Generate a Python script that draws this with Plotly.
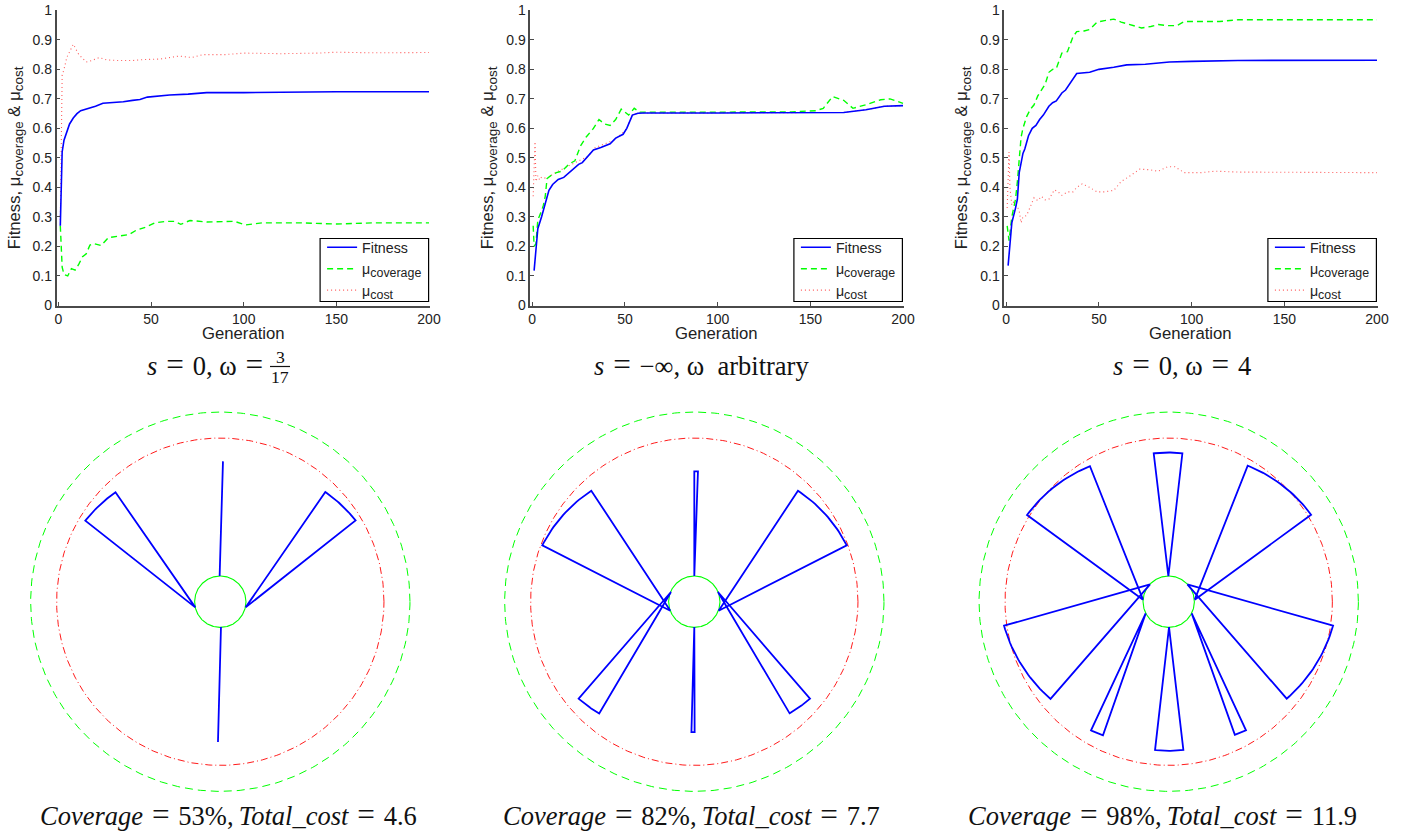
import numpy as np
import plotly.graph_objects as go

W, H = 1408, 835
# ---------- line chart data (generation, value) ----------
p1_fit_x = [1,2,3,5,6,8,10,12,15,18,20,24,30,35,40,44,48,55,60,70,80,100,150,200]
p1_fit_y = [.27,.52,.56,.60,.615,.635,.65,.66,.665,.672,.675,.685,.687,.69,.695,.698,.706,.71,.713,.716,.721,.721,.724,.724]
p1_cov_x = [1,2,3,5,7,9,11,13,15,17,19,23,27,33,38,42,47,52,58,63,66,71,80,95,101,110,130,150,170,200]
p1_cov_y = [.27,.13,.105,.10,.125,.12,.14,.165,.175,.205,.21,.203,.23,.235,.24,.255,.265,.28,.285,.285,.275,.288,.283,.285,.273,.28,.28,.276,.28,.28]
p1_cost_x = [1,1.5,2,3,4.5,8,11,15,18,22,26,32,40,46,55,65,72,78,90,100,120,140,150,170,200]
p1_cost_y = [.29,.6,.78,.80,.84,.885,.85,.825,.83,.84,.832,.83,.83,.833,.835,.845,.84,.85,.85,.855,.853,.855,.858,.856,.857]

p2_fit_x = [1,3,5,7,9,11,14,17,20,22,25,27,30,33,37,42,45,49,51,54,57,60,100,150,168,180,190,200]
p2_fit_y = [.118,.26,.30,.35,.39,.41,.427,.434,.45,.46,.478,.484,.505,.527,.535,.548,.567,.58,.60,.645,.651,.652,.652,.652,.654,.663,.675,.677]
p2_cov_x = [.5,1,2,3,5,6,7,8,10,13,16,20,23,26,29,33,36,39,42,45,48,52,55,58,100,140,153,157,162,168,173,180,188,193,200]
p2_cov_y = [.27,.2,.21,.29,.32,.34,.37,.43,.44,.45,.455,.48,.49,.54,.57,.60,.63,.615,.61,.63,.665,.645,.668,.655,.655,.656,.66,.668,.708,.695,.668,.68,.697,.70,.685]
p2_cost_x = [.5,1,1.5,2,3,4,5,8,10,14,20,25,30,34,40,44,48,51,54,57,60,100,150,168,180,190,200]
p2_cost_y = [.37,.46,.555,.42,.44,.425,.435,.43,.44,.455,.475,.49,.505,.535,.55,.56,.58,.60,.645,.651,.652,.652,.652,.654,.663,.675,.677]

p3_fit_x = [1,2,3,5,6,7,9,10,12,14,16,18,20,23,25,27,30,32,35,38,45,50,58,65,75,88,100,125,200]
p3_fit_y = [.135,.22,.28,.33,.36,.45,.515,.53,.575,.60,.61,.63,.645,.675,.687,.693,.72,.73,.76,.786,.79,.80,.807,.815,.817,.825,.827,.83,.831]
p3_cov_x = [.5,1,1.5,3,5,6,7,8,9,11,13,15,17,19,21,23,25,27,30,33,36,38,42,45,49,53,58,62,67,73,78,82,87,92,96,105,115,125,200]
p3_cov_y = [.27,.25,.22,.30,.36,.42,.50,.57,.60,.64,.665,.68,.71,.73,.75,.79,.80,.803,.855,.86,.91,.928,.93,.935,.96,.965,.97,.96,.95,.94,.945,.952,.948,.948,.962,.963,.962,.968,.968]
p3_cost_x = [.5,1,1.5,2,3,4,6,7,8,9,11,13,15,17,19,21,23,26,28,30,33,36,38,41,45,49,53,58,62,67,72,77,82,87,91,96,105,113,125,200]
p3_cost_y = [.33,.41,.52,.40,.34,.35,.335,.32,.28,.30,.305,.335,.365,.355,.37,.358,.36,.392,.385,.373,.385,.385,.40,.412,.40,.385,.385,.39,.42,.44,.462,.46,.455,.47,.47,.45,.45,.455,.452,.45]

x_ticks = [0,50,100,150,200]
y_ticks = [0,.1,.2,.3,.4,.5,.6,.7,.8,.9,1]
y_tick_labels = ['0','0.1','0.2','0.3','0.4','0.5','0.6','0.7','0.8','0.9','1']

# ---------- sensor diagrams: apex, far edge A, far edge B (units of a diagram whose outer radius is 569) ----------
r_outer, r_sense, r_inner = 569, 491, 77
d1_sensors = [[(76,-17),(315,329),(405,243)], [(-75,-17),(-405,243),(-315,329)],
              [(-2,77),(8,421),(8,421)], [(2,-76),(-7,-421),(-7,-421)]]
d2_sensors = [[(0,77),(0,391),(11,391)], [(0,-76),(-10,-391),(1,-391)],
              [(73,-27),(311,333),(457,169)], [(-72,-27),(-456,169),(-309,333)],
              [(71,29),(286,-335),(347,-291)], [(-70,29),(-347,-291),(-285,-335)]]
d3_sensors = [[(-1,77),(-45,445),(41,445)], [(1,-76),(-41,-445),(44,-445)],
              [(78,6),(237,408),(426,260)], [(-77,6),(-425,260),(-237,408)],
              [(56,52),(354,-291),(493,-72)], [(-56,52),(-494,-72),(-354,-291)],
              [(69,-35),(197,-400),(232,-386)], [(-69,-35),(-233,-386),(-197,-400)]]

BLUE, GREEN, RED = '#0000ff', '#00ff00', '#ff0000'
SANS = 'Liberation Sans'; SERIF = 'Liberation Serif'
AXC = '#4a4a4a'; TXT = '#222222'
SUB = lambda s, pct=115: f'<sub><span style="font-size:{pct}%">{s}</span></sub>'
fig = go.Figure()

panels = [
 (56.6, 429.0, p1_fit_x,p1_fit_y,p1_cov_x,p1_cov_y,p1_cost_x,p1_cost_y),
 (530.4, 903.0, p2_fit_x,p2_fit_y,p2_cov_x,p2_cov_y,p2_cost_x,p2_cost_y),
 (1004.4, 1377.0, p3_fit_x,p3_fit_y,p3_cov_x,p3_cov_y,p3_cost_x,p3_cost_y),
]
TOP, BOT = 10.3, 305.5
layout = {}
for i,(L,R,fx,fy,cx,cy,kx,ky) in enumerate(panels):
    n = i+1
    ax = '' if n==1 else str(n)
    leg = 'legend' if n==1 else f'legend{n}'
    for nm,x,y,col,dash,w,rank in [
        ('μ'+SUB('cost',125),kx,ky,'#ff5a5a','1px,3px',1.1,3),
        ('μ'+SUB('coverage',125),cx,cy,GREEN,'6px,4px',1.4,2),
        ('Fitness',fx,fy,BLUE,'solid',1.6,1)]:
        fig.add_trace(go.Scatter(x=x,y=y,mode='lines',name=nm,xaxis=f'x{ax}',yaxis=f'y{ax}',
            line=dict(color=col,dash=dash,width=w),legend=leg,legendrank=rank))
    layout[f'xaxis{ax}'] = dict(domain=[L/W,(R+1)/W],range=[-1,200+1/1.855],anchor=f'y{ax}',tickmode='array',automargin=False,
        tickvals=x_ticks,ticks='inside',ticklen=4,tickcolor=AXC,showline=True,linecolor=AXC,linewidth=1.6,
        showgrid=False,zeroline=False,tickfont=dict(family=SANS,size=14,color=TXT))
    layout[f'yaxis{ax}'] = dict(domain=[1-BOT/H,1-TOP/H],range=[0,1],anchor=f'x{ax}',tickmode='array',automargin=False,
        tickvals=y_ticks,ticktext=y_tick_labels,ticks='inside',ticklen=4,tickcolor=AXC,showline=True,linecolor=AXC,linewidth=1.6,
        showgrid=False,zeroline=False,tickfont=dict(family=SANS,size=14,color=TXT),
        title=dict(text='Fitness, μ'+SUB('coverage')+' &amp; μ'+SUB('cost'),font=dict(family=SANS,size=16.7,color=TXT),standoff=8))
    layout[leg] = dict(x=(L+265.5)/W,xanchor='left',y=1-231.5/H,yanchor='top',bgcolor='rgba(0,0,0,0)',borderwidth=0,
        font=dict(family=SANS,size=14.2,color=TXT),entrywidth=66,entrywidthmode='pixels',itemwidth=30,
        tracegroupgap=0,traceorder='normal')
    fig.add_shape(type='rect',xref='paper',yref='paper',x0=(L+263.5)/W,x1=(L+372)/W,y0=1-301.5/H,y1=1-238.5/H,
        layer='above',fillcolor='white',line=dict(color='black',width=1.2))
    fig.add_annotation(x=(L+186.5)/W,y=1-333/H,xref='paper',yref='paper',text='Generation',showarrow=False,
        xanchor='center',yanchor='middle',font=dict(family=SANS,size=16.7,color=TXT))

# ---------- diagrams ----------
centres = [220.3, 694.3, 1168.7]
CY = 601.7
theta = np.linspace(0,2*np.pi,361)
def wedge(s):
    (ax_,ay_),(qx,qy),(px,py) = s
    a1 = np.arctan2(qy-ay_,qx-ax_); a2 = np.arctan2(py-ay_,px-ax_)
    r = np.hypot(qx-ax_,qy-ay_)
    t = np.linspace(a1,a2,25)
    xs = [ax_]+list(ax_+r*np.cos(t))+[ax_]
    ys = [ay_]+list(ay_+r*np.sin(t))+[ay_]
    return xs,ys
for j,(c,sensors) in enumerate(zip(centres,[d1_sensors,d2_sensors,d3_sensors])):
    n = j+4
    half = 200
    layout[f'xaxis{n}'] = dict(domain=[(c-half)/W,(c+half)/W],range=[-600,600],visible=False,anchor=f'y{n}',automargin=False)
    layout[f'yaxis{n}'] = dict(domain=[1-(CY+half)/H,1-(CY-half)/H],range=[-600,600],visible=False,anchor=f'x{n}',automargin=False)
    for r,col,dash,w in [(r_outer,GREEN,'8px,5px',1),(r_sense,RED,'7px,3px,1px,3px',0.9),(r_inner,GREEN,'solid',1.1)]:
        fig.add_trace(go.Scatter(x=r*np.cos(theta),y=r*np.sin(theta),mode='lines',xaxis=f'x{n}',yaxis=f'y{n}',
            showlegend=False,line=dict(color=col,dash=dash,width=w)))
    for s in sensors:
        xs,ys = wedge(s)
        fig.add_trace(go.Scatter(x=xs,y=ys,mode='lines',xaxis=f'x{n}',yaxis=f'y{n}',showlegend=False,
            line=dict(color=BLUE,width=1.8)))

def label(px,py,text,size=26.5,anchor='left'):
    fig.add_annotation(x=px/W,y=1-py/H,xref='paper',yref='paper',text=text,showarrow=False,xanchor=anchor,yanchor='middle',
        font=dict(family=SERIF,size=size,color='#111'),borderpad=0,borderwidth=0)

EQ = '\u2004<span style="font-size:118%">=</span>\u2004'
label(147,364,f'<i>s</i>{EQ}0, ω{EQ}')
label(280,356.5,'3',size=17.7,anchor='center')
label(280,376.5,'17',size=17.7,anchor='center')
fig.add_shape(type='line',xref='paper',yref='paper',x0=270/W,x1=290/W,y0=1-366.5/H,y1=1-366.5/H,line=dict(color='#111',width=1.2))
label(594,364,f'<i>s</i>{EQ}−∞, ω  arbitrary')
label(1113,364,f'<i>s</i>{EQ}0, ω{EQ}4')
label(40,814,f'<i>Coverage</i>{EQ}53%,\u2009<i>Total_cost</i>{EQ}4.6')
label(503,814,f'<i>Coverage</i>{EQ}82%,\u2009<i>Total_cost</i>{EQ}7.7')
label(968,814,f'<i>Coverage</i>{EQ}98%,\u2009<i>Total_cost</i>{EQ}11.9')

fig.update_layout(width=W,height=H,margin=dict(l=0,r=0,t=0,b=0,autoexpand=False),plot_bgcolor='white',paper_bgcolor='white',
    showlegend=True,**layout)
fig.write_html('out.html',config={'displayModeBar':False},post_script="document.body.style.margin='0';document.body.style.overflow='hidden';")
